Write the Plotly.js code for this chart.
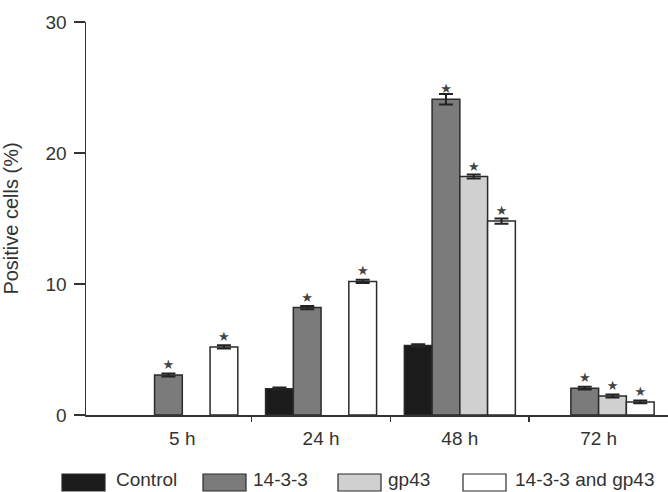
<!DOCTYPE html>
<html>
<head>
<meta charset="utf-8">
<script src="https://cdn.plot.ly/plotly-3.0.1.min.js"></script>
<style>html,body{margin:0;padding:0;background:#fff;}#chart{width:668px;height:492px;}</style>
</head>
<body>
<div id="chart"></div>
<script>
// ---- data ----
const categories = ['5 h', '24 h', '48 h', '72 h'];
const seriesNames = ['Control', '14-3-3', 'gp43', '14-3-3 and gp43'];
const controlVals = [null, 2.0, 5.3, null];
const p1433Vals   = [3.05, 8.2, 24.1, 2.05];
const gp43Vals    = [null, null, 18.2, 1.45];
const comboVals   = [5.2, 10.2, 14.8, 1.0];
const controlErr = [0, 0.1, 0.1, 0];
const p1433Err   = [0.12, 0.12, 0.4, 0.1];
const gp43Err    = [0, 0, 0.15, 0.12];
const comboErr   = [0.12, 0.12, 0.2, 0.1];
const controlSig = ['', '', '', ''];
const p1433Sig   = ['★', '★', '★', '★'];
const gp43Sig    = ['', '', '★', '★'];
const comboSig   = ['★', '★', '★', '★'];
const yTicks = [0, 10, 20, 30];

const fills = ['#1b1b1b', '#7b7b7b', '#d0d0d0', '#ffffff'];
const edge = '#2b2b2b';
const font = 'Liberation Sans, Arial, sans-serif';

const vals = [controlVals, p1433Vals, gp43Vals, comboVals];
const errs = [controlErr, p1433Err, gp43Err, comboErr];
const sigs = [controlSig, p1433Sig, gp43Sig, comboSig];

const traces = vals.map((v, i) => ({
  type: 'bar',
  name: seriesNames[i],
  x: categories,
  y: v,
  marker: {color: fills[i], line: {color: edge, width: 1.5}},
  error_y: {type: 'data', array: errs[i], visible: true, color: '#222', thickness: 2, width: 7},
  text: sigs[i],
  textposition: 'outside',
  textfont: {family: 'DejaVu Sans', size: 13, color: '#444'},
  cliponaxis: false,
  showlegend: false,
  hoverinfo: 'x+y+name'
}));

// divider tick axis (overlay, linear)
traces.push({type: 'scatter', x: [0], y: [0], xaxis: 'x2', mode: 'markers',
  marker: {opacity: 0}, showlegend: false, hoverinfo: 'skip'});

// plot area pixel geometry
const L = 86, R = 668, T = 22, B = 415, W = 668, H = 492;
const px = p => (p - L) / (R - L);
const py = p => (B - p) / (B - T);

const shapes = [];
const annotations = [];
const legendSw = [62, 203, 338, 463];
const legendTx = [114, 251, 386, 513];
seriesNames.forEach((n, i) => {
  shapes.push({type: 'rect', xref: 'paper', yref: 'paper',
    x0: px(legendSw[i]), x1: px(legendSw[i] + 43), y0: py(474), y1: py(491),
    fillcolor: fills[i], line: {color: edge, width: 1.2}});
  annotations.push({xref: 'paper', yref: 'paper', x: px(legendTx[i]), y: py(479),
    xanchor: 'left', yanchor: 'middle', text: n, showarrow: false,
    font: {family: font, size: 19, color: '#333'}});
});

const xr = [-0.694, 3.5];
const layout = {
  width: W, height: H,
  margin: {l: L, r: W - R, t: T, b: H - B, pad: 0},
  paper_bgcolor: '#fff', plot_bgcolor: '#fff',
  barmode: 'group', bargap: 0.2, bargroupgap: 0,
  font: {family: font, size: 19, color: '#333'},
  xaxis: {type: 'category', range: xr, showgrid: false, zeroline: false,
    showline: true, linecolor: '#333', linewidth: 1.5, ticks: '',
    ticklabelstandoff: 6,
    tickfont: {family: font, size: 19, color: '#333'}, fixedrange: true},
  xaxis2: {type: 'linear', overlaying: 'x', anchor: 'y', side: 'bottom', range: xr,
    tickmode: 'array', tickvals: [0.5, 1.5, 2.5], ticks: 'outside', ticklen: 6,
    tickwidth: 1.5, tickcolor: '#333', showticklabels: false, showgrid: false,
    zeroline: false, showline: false},
  yaxis: {range: [0, 30], tickmode: 'array', tickvals: yTicks, ticks: 'outside',
    ticklen: 11, tickwidth: 1.5, tickcolor: '#333', showline: true, linecolor: '#333',
    linewidth: 1.5, showgrid: false, zeroline: false, ticklabelstandoff: 3,
    tickfont: {family: font, size: 19, color: '#333'},
    title: {text: 'Positive cells (%)', font: {family: font, size: 20, color: '#333'}, standoff: 22}},
  shapes: shapes,
  annotations: annotations
};

Plotly.newPlot('chart', traces, layout, {displayModeBar: false, staticPlot: true});
</script>
</body>
</html>
